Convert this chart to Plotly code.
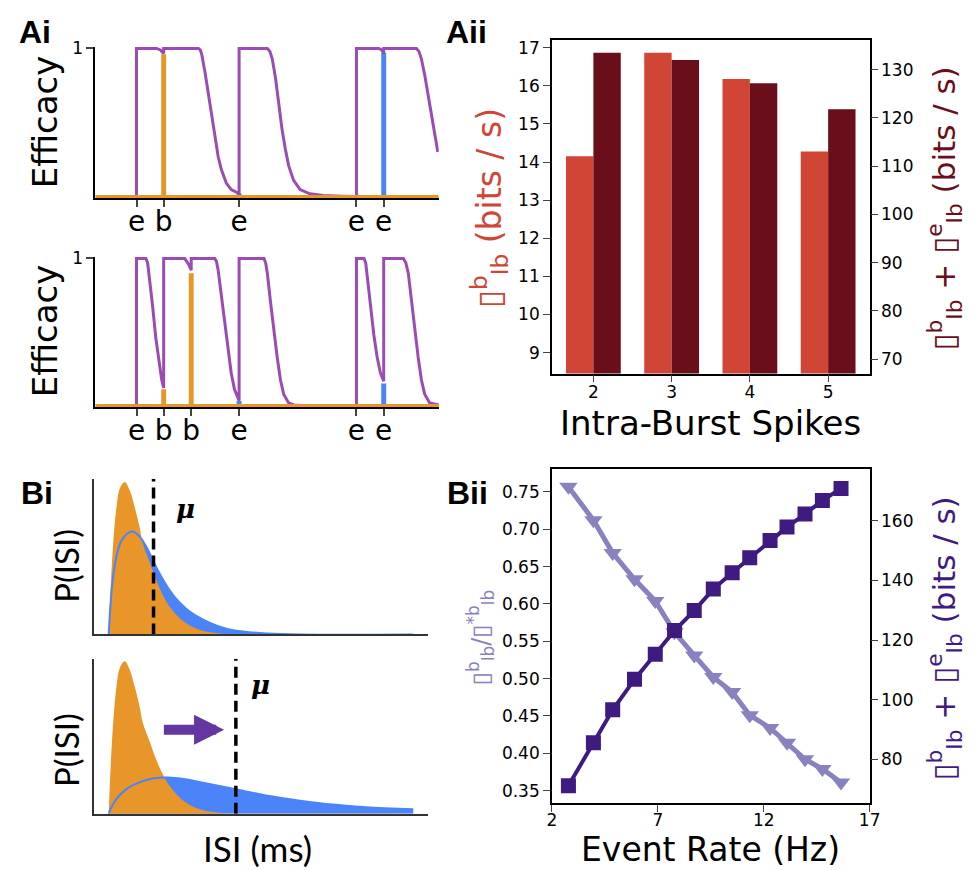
import plotly.graph_objects as go

# ---------------- data ----------------
# Ai (top): efficacy trace, time axis (ms)
ai1_t = [0, 41.7, 41.7, 62, 66, 69.3, 69.3, 104.7, 106.5, 108, 111.3, 114.7, 118, 121.3, 124.7, 128, 133, 138, 146,
         146, 174.7, 177.3, 179.7, 183, 186.3, 189.7, 193, 196.3, 201.3, 208, 218, 231.3, 250, 265.3,
         265.3, 288, 291, 293, 293, 326.3, 328.8, 331.3, 334.7, 338, 341.3, 344.7, 348]
ai1_eff = [0, 0, 1, 1, 0.99, 0.965, 1, 1, 0.99, 0.96, 0.84, 0.69, 0.54, 0.39, 0.27, 0.18, 0.09, 0.046, 0.02,
           1, 1, 0.98, 0.93, 0.80, 0.62, 0.45, 0.32, 0.21, 0.11, 0.046, 0.018, 0.007, 0.002, 0,
           1, 1, 0.99, 0.965, 1, 1, 0.98, 0.93, 0.82, 0.69, 0.56, 0.43, 0.30]
ai1_tick_t = [41.7, 69.3, 146, 265.3, 293]
ai1_tick_lab = ["e", "b", "e", "e", "e"]
ai1_burst_t = [69.3]
ai1_burst_eff = [0.96]
ai1_event_t = [146, 293]
ai1_event_eff = [0.02, 0.97]

# Ai (bottom)
ai2_t = [0, 41.7, 41.7, 51.3, 53, 54.7, 58, 61.3, 64.7, 67.3, 69.3,
         69.3, 90.7, 94.7, 97.3, 97.3, 121.3, 123, 124.7, 128, 131.3, 134.7, 138, 141.3, 146,
         146, 171.3, 173, 174.7, 178, 181.3, 184.7, 188, 191.3, 196.3, 201.3, 210,
         265.3, 265.3, 273, 274.7, 276.3, 279.7, 283, 286.3, 289.7, 293,
         293, 313, 315.5, 318, 321.3, 324.7, 328, 331.3, 334.7, 339.7, 349]
ai2_eff = [0, 0, 1, 1, 0.97, 0.875, 0.68, 0.46, 0.28, 0.175, 0.12,
           1, 1, 0.96, 0.92, 1, 1, 0.98, 0.92, 0.74, 0.55, 0.37, 0.22, 0.11, 0.033,
           1, 1, 0.97, 0.90, 0.70, 0.50, 0.33, 0.175, 0.077, 0.018, 0.004, 0,
           0, 1, 1, 0.97, 0.875, 0.68, 0.48, 0.33, 0.22, 0.165,
           1, 1, 0.97, 0.90, 0.70, 0.50, 0.33, 0.175, 0.077, 0.018, 0.004]
ai2_tick_t = [41.7, 69.3, 97.3, 146, 265.3, 293]
ai2_tick_lab = ["e", "b", "b", "e", "e", "e"]
ai2_burst_t = [69.3, 97.3]
ai2_burst_eff = [0.11, 0.90]
ai2_event_t = [146, 293]
ai2_event_eff = [0.03, 0.15]

ai_span = [0, 349]
ai_zero = [0, 0]

# Aii
spikes = [2, 3, 4, 5]
aii_burst_info = [14.15, 16.87, 16.18, 14.28]
aii_total_info = [133.5, 132.0, 127.2, 121.8]

# Bi: ISI distributions
burst_isi = [14.7, 16, 19.3, 22.7, 26, 31, 36, 41, 46, 49.3, 56, 62.7, 69.3, 76, 86, 96, 109.3, 126, 142.7, 324.3]
burst_p = [0, 32.3, 92.3, 129, 147.3, 154, 145.7, 129, 109, 92.3, 74, 55.7, 40.7, 29, 17.3, 9.7, 4, 1.3, 0, 0]
event1_isi = [14.7, 16.7, 19.3, 24.3, 29.3, 38.3, 46, 52.7, 59.3, 66, 76, 86, 96, 109.3, 126, 142.7, 176, 209.3, 324.3]
event1_p = [0, 32.3, 59, 85.7, 97.3, 104, 99, 89, 75.7, 62.3, 45.7, 33, 24, 15.7, 8.3, 4, 1, 0, 0]
event2_isi = [14.7, 16.7, 22.7, 32.7, 46, 59.3, 74.3, 92.7, 109.3, 142.7, 176, 209.3, 242.7, 276, 324.3]
event2_p = [0, 5, 15, 25, 31.7, 35.7, 36.7, 35, 31.7, 25, 18.3, 13.3, 9.3, 6.7, 4.7]
mu_isi = [60.3, 144]
bi_pmax = [157.3, 156.7]
bi_isimax = 339.3

# Bii
event_rate = [2.78, 3.96, 4.87, 5.90, 6.88, 7.79, 8.72, 9.62, 10.51, 11.34, 12.30, 13.10, 13.95, 14.77, 15.65]
frac_info = [0.757, 0.712, 0.668, 0.633, 0.604, 0.562, 0.531, 0.502, 0.482, 0.451, 0.434, 0.414, 0.392, 0.379, 0.361]
total_info = [71.1, 85.5, 96.6, 106.8, 115.2, 123.2, 129.9, 137.1, 142.6, 147.6, 153.4, 157.9, 162.3, 166.8, 170.9]

# ---------------- styling ----------------
W, H = 978, 870
FONT = "DejaVu Sans"
PURPLE = "#9a4cb4"
ORANGE = "#e8952a"
BLUE = "#4a84f8"
RED = "#d14537"
DRED = "#6b0e1b"
LPUR = "#8883c0"
DPUR = "#3f1a80"


def dx(a, b):
    return [a / W, b / W]


def dy(top, bottom):
    return [1 - bottom / H, 1 - top / H]


fig = go.Figure()

# ---- Ai traces ----
for (t, e, bt, be, et, ee, xa, ya) in [
    (ai1_t, ai1_eff, ai1_burst_t, ai1_burst_eff, ai1_event_t, ai1_event_eff, "x", "y"),
    (ai2_t, ai2_eff, ai2_burst_t, ai2_burst_eff, ai2_event_t, ai2_event_eff, "x2", "y2"),
]:
    fig.add_trace(go.Scatter(x=t, y=e, mode="lines", line=dict(color=PURPLE, width=3),
                             xaxis=xa, yaxis=ya, showlegend=False))
    fig.add_trace(go.Scatter(x=ai_span, y=ai_zero, mode="lines", line=dict(color=ORANGE, width=3),
                             xaxis=xa, yaxis=ya, showlegend=False))
    fig.add_trace(go.Bar(x=bt, y=be, width=5, marker=dict(color=ORANGE, line=dict(width=0)),
                         xaxis=xa, yaxis=ya, showlegend=False))
    fig.add_trace(go.Bar(x=et, y=ee, width=5, marker=dict(color=BLUE, line=dict(width=0)),
                         xaxis=xa, yaxis=ya, showlegend=False))

# ---- Aii bars ----
fig.add_trace(go.Bar(x=spikes, y=aii_burst_info, width=0.35, offset=-0.35,
                     marker=dict(color=RED, line=dict(width=0)), xaxis="x3", yaxis="y3", showlegend=False))
fig.add_trace(go.Bar(x=spikes, y=aii_total_info, width=0.35, offset=0.0,
                     marker=dict(color=DRED, line=dict(width=0)), xaxis="x3", yaxis="y4", showlegend=False))

# ---- Bi ----
for (ei, ep, mu, pmax, xa, ya) in [
    (event1_isi, event1_p, mu_isi[0], bi_pmax[0], "x5", "y5"),
    (event2_isi, event2_p, mu_isi[1], bi_pmax[1], "x6", "y6"),
]:
    fig.add_trace(go.Scatter(x=ei, y=ep, mode="lines", line=dict(color=BLUE, width=0, shape="spline"),
                             fill="tozeroy", fillcolor=BLUE, xaxis=xa, yaxis=ya, showlegend=False))
    fig.add_trace(go.Scatter(x=burst_isi, y=burst_p, mode="lines",
                             line=dict(color=ORANGE, width=0, shape="spline"),
                             fill="tozeroy", fillcolor=ORANGE, xaxis=xa, yaxis=ya, showlegend=False))
    fig.add_trace(go.Scatter(x=ei, y=ep, mode="lines", line=dict(color=BLUE, width=2, shape="spline"),
                             xaxis=xa, yaxis=ya, showlegend=False))
    fig.add_trace(go.Scatter(x=[mu, mu], y=[0, pmax], mode="lines",
                             line=dict(color="black", width=3.5, dash="11px,6px"),
                             xaxis=xa, yaxis=ya, showlegend=False))

# ---- Bii ----
fig.add_trace(go.Scatter(x=event_rate, y=frac_info, mode="lines+markers",
                         line=dict(color=LPUR, width=5),
                         marker=dict(symbol="triangle-down", size=16, color=LPUR),
                         xaxis="x7", yaxis="y7", showlegend=False))
fig.add_trace(go.Scatter(x=event_rate, y=total_info, mode="lines+markers",
                         line=dict(color=DPUR, width=4),
                         marker=dict(symbol="square", size=15, color=DPUR),
                         xaxis="x7", yaxis="y8", showlegend=False))

# ---------------- axes ----------------
base_ax = dict(showgrid=False, zeroline=False, showline=True, linecolor="black")

tickfont_small = dict(family=FONT, size=17, color="black")

layout = dict(
    width=W, height=H, margin=dict(l=0, r=0, t=0, b=0),
    paper_bgcolor="white", plot_bgcolor="rgba(0,0,0,0)",
    barmode="overlay", showlegend=False,
    # Ai top
    xaxis=dict(base_ax, domain=dx(92, 441), range=ai_span, anchor="y", linewidth=2,
               tickmode="array", tickvals=ai1_tick_t, ticktext=ai1_tick_lab,
               ticks="outside", ticklen=7, tickwidth=1.5, ticklabelstandoff=-10,
               tickfont=dict(family=FONT, size=28, color="black")),
    yaxis=dict(base_ax, domain=dy(39, 192), range=[-0.012, 1.012], anchor="x", linewidth=2,
               tickmode="array", tickvals=[1], ticktext=["1"], ticks="outside", ticklen=7, tickwidth=1.5,
               tickfont=tickfont_small),
    # Ai bottom
    xaxis2=dict(base_ax, domain=dx(92, 441), range=ai_span, anchor="y2", linewidth=2,
                tickmode="array", tickvals=ai2_tick_t, ticktext=ai2_tick_lab,
                ticks="outside", ticklen=7, tickwidth=1.5, ticklabelstandoff=-10,
                tickfont=dict(family=FONT, size=28, color="black")),
    yaxis2=dict(base_ax, domain=dy(251, 403), range=[-0.012, 1.012], anchor="x2", linewidth=2,
                tickmode="array", tickvals=[1], ticktext=["1"], ticks="outside", ticklen=7, tickwidth=1.5,
                tickfont=tickfont_small),
    # Aii
    xaxis3=dict(base_ax, domain=dx(556, 879), range=[1.47, 5.53], anchor="y3", linewidth=1.5, mirror=True,
                tickmode="array", tickvals=spikes, ticks="outside", ticklen=7, tickwidth=1.3,
                ticklabelstandoff=-5, tickfont=tickfont_small),
    yaxis3=dict(base_ax, domain=dy(32, 369), range=[8.45, 17.21], anchor="x3", linewidth=1.5, mirror=True,
                tickmode="array", tickvals=list(range(9, 18)), ticks="outside", ticklen=7, tickwidth=1.3,
                tickfont=tickfont_small),
    yaxis4=dict(showgrid=False, zeroline=False, showline=False, overlaying="y3", side="right", anchor="x3",
                range=[67.0, 136.2], tickmode="array", tickvals=list(range(70, 131, 10)),
                ticks="outside", ticklen=7, tickwidth=1.3, tickfont=tickfont_small),
    # Bi
    xaxis5=dict(base_ax, domain=dx(90.7, 430), range=[0, bi_isimax], anchor="y5", linewidth=2,
                linecolor="#333", showticklabels=False, ticks=""),
    yaxis5=dict(base_ax, domain=dy(475, 632.3), range=[0, bi_pmax[0]], anchor="x5", linewidth=2,
                linecolor="#333", showticklabels=False, ticks=""),
    xaxis6=dict(base_ax, domain=dx(90.7, 430), range=[0, bi_isimax], anchor="y6", linewidth=2,
                linecolor="#333", showticklabels=False, ticks=""),
    yaxis6=dict(base_ax, domain=dy(656.7, 813.3), range=[0, bi_pmax[1]], anchor="x6", linewidth=2,
                linecolor="#333", showticklabels=False, ticks=""),
    # Bii
    xaxis7=dict(base_ax, domain=dx(556, 879), range=[2, 17], anchor="y7", linewidth=1.5, mirror=True,
                tickmode="array", tickvals=[2, 7, 12, 17], ticks="outside", ticklen=7, tickwidth=1.3,
                ticklabelstandoff=-6, tickfont=tickfont_small),
    yaxis7=dict(base_ax, domain=dy(465, 802.7), range=[0.333, 0.781], anchor="x7", linewidth=1.5, mirror=True,
                tickmode="array", tickvals=[0.35, 0.40, 0.45, 0.50, 0.55, 0.60, 0.65, 0.70, 0.75],
                tickformat=".2f", ticks="outside", ticklen=7, tickwidth=1.3, tickfont=tickfont_small),
    yaxis8=dict(showgrid=False, zeroline=False, showline=False, overlaying="y7", side="right", anchor="x7",
                range=[65.2, 177.5], tickmode="array", tickvals=[80, 100, 120, 140, 160],
                ticks="outside", ticklen=7, tickwidth=1.3, tickfont=tickfont_small),
)
fig.update_layout(**layout)

# ---------------- annotations ----------------
ann = []


def txt(text, x, y, size, color="black", family=FONT, angle=0, xanchor="center"):
    ann.append(dict(text=text, x=x / W, y=1 - y / H, xref="paper", yref="paper", showarrow=False,
                    xanchor=xanchor, yanchor="middle", textangle=angle,
                    font=dict(family=family, size=size, color=color)))


BOLD = "Liberation Sans"
txt("<b>Ai</b>", 12, 24, 32, family=BOLD, xanchor="left")
txt("<b>Aii</b>", 446, 24, 32, family=BOLD, xanchor="left")
txt("<b>Bi</b>", 14, 490, 32, family=BOLD, xanchor="left")
txt("<b>Bii</b>", 447, 490, 32, family=BOLD, xanchor="left")

txt("Efficacy", 41, 115, 34, angle=-90)
txt("Efficacy", 41, 326, 34, angle=-90)

txt("P(ISI)", 62, 563, 33, family="Lato", angle=-90)
txt("P(ISI)", 62, 749, 33, family="Lato", angle=-90)
txt("ISI (ms)", 257, 848, 35, family="Lato")

BOX = "<i>\u25af</i>"


def term(sup):
    return BOX + "<sup>" + sup + "</sup><sub>Ib</sub>"


txt(term("b") + " (bits / s)", 492, 202, 33, color=RED, angle=-90)
txt(term("b") + " + " + term("e") + " (bits / s)", 955, 202, 31, color=DRED, angle=-90)
txt("Intra-Burst Spikes", 717.5, 419, 34)

txt(term("b") + "/" + term("*b"), 483, 636, 24, color=LPUR, angle=-90)
txt(term("b") + " + " + term("e") + " (bits / s)", 955, 636, 31, color=DPUR, angle=-90)
txt("Event Rate (Hz)", 717.5, 849, 33)

# mu labels (data coords)
ann.append(dict(text="<b><i>\u03bc</i></b>", x=mu_isi[0] + 32, y=127, xref="x5", yref="y5",
                showarrow=False, font=dict(family="DejaVu Serif", size=26, color="black")))
ann.append(dict(text="<b><i>\u03bc</i></b>", x=mu_isi[1] + 25, y=130, xref="x6", yref="y6",
                showarrow=False, font=dict(family="DejaVu Serif", size=26, color="black")))
# shift arrow
ann.append(dict(text="", x=132, y=85, ax=69.3, ay=85, xref="x6", yref="y6", axref="x6", ayref="y6",
                showarrow=True, arrowhead=2, arrowsize=0.6, arrowwidth=10, arrowcolor="#6336a0",
                standoff=0))

fig.update_layout(annotations=ann)

fig.write_html("out.html")
